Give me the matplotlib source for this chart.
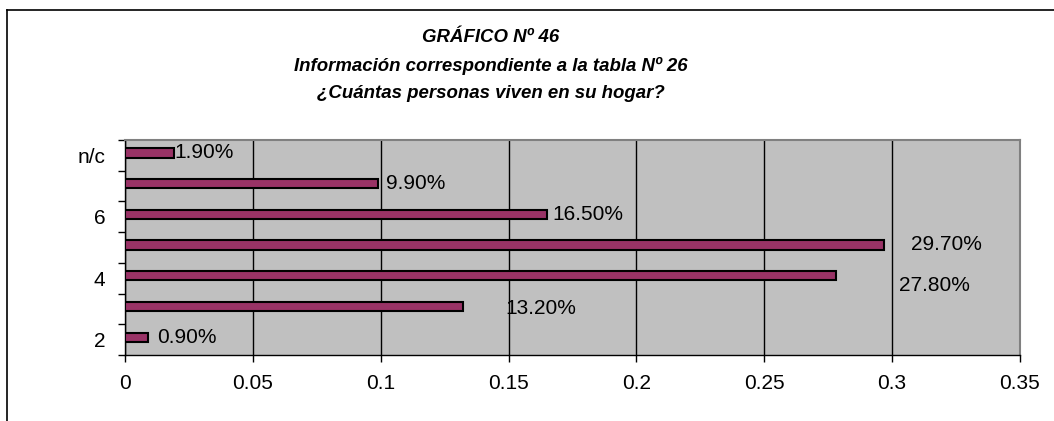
import matplotlib.pyplot as plt
from matplotlib.lines import Line2D
import numpy as np

# personas por hogar, fracción de encuestados
categorias = ['2', '3', '4', '5', '6', '7', 'n/c']
valores = [0.009, 0.132, 0.278, 0.297, 0.165, 0.099, 0.019]
etiquetas_y = ['2', '', '4', '', '6', '', 'n/c']
xticks = [0, 0.05, 0.1, 0.15, 0.2, 0.25, 0.3, 0.35]

# desplazamiento de cada etiqueta de dato (pixeles) respecto al final de la barra
desplaz = [(9, 0), (43, -2), (63, -10), (27, 1), (5, 0), (8, 0), (1, 0)]

titulo = ['GRÁFICO Nº 46',
          'Información correspondiente a la tabla Nº 26',
          '¿Cuántas personas viven en su hogar?']

plt.rcParams['font.family'] = ['Liberation Sans', 'DejaVu Sans']

W, H = 1054, 421
fig = plt.figure(figsize=(W / 100, H / 100), dpi=100)

# marco exterior del gráfico
fig.add_artist(Line2D([7 / W, 1], [1 - 10 / H, 1 - 10 / H], color='black', lw=1.2))
fig.add_artist(Line2D([7 / W, 7 / W], [0, 1 - 10 / H], color='black', lw=1.2))

for i, linea in enumerate(titulo):
    fig.text(491 / W, 1 - (37 + 28.5 * i) / H, linea, ha='center', va='center',
             fontsize=13.4, fontweight='bold', fontstyle='italic')

ax = fig.add_axes([125 / W, 1 - 355 / H, 895 / W, 215 / H])
ax.set_facecolor('#C0C0C0')

pos = np.arange(len(categorias))
bar_y = pos + 0.08
ax.barh(bar_y, valores, height=0.3, color='#993366', edgecolor='black',
        linewidth=1.5, zorder=3)

for y, v, (dx, dy) in zip(bar_y, valores, desplaz):
    ax.annotate('{:.2f}%'.format(v * 100), xy=(v, y), xytext=(dx, dy),
                textcoords='offset pixels', ha='left', va='center',
                fontsize=15, zorder=4)

ax.set_xlim(0, 0.35)
ax.set_ylim(-0.5, len(categorias) - 0.5)
ax.set_xticks(xticks)
ax.set_xticklabels(['{:g}'.format(t) for t in xticks], fontsize=15)
ax.xaxis.grid(True, color='black', lw=1, zorder=1)
ax.tick_params(axis='x', direction='out', length=5, width=1, pad=9)

# marcas en los límites de cada categoría, texto en el centro
ax.set_yticks(np.arange(len(categorias) + 1) - 0.5)
ax.set_yticklabels([])
ax.set_yticks(pos, minor=True)
ax.set_yticklabels(etiquetas_y, minor=True, fontsize=15)
ax.tick_params(axis='y', which='major', direction='out', length=5, width=1)
ax.tick_params(axis='y', which='minor', length=0, pad=14)

for s in ['left', 'bottom']:
    ax.spines[s].set_color('black')
    ax.spines[s].set_linewidth(1)
for s in ['top', 'right']:
    ax.spines[s].set_color('#808080')
    ax.spines[s].set_linewidth(1.5)

fig.savefig('out.png', dpi=100)
